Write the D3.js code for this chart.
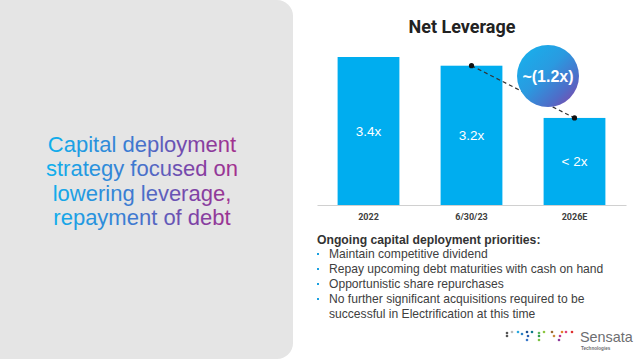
<!DOCTYPE html>
<html>
<head>
<meta charset="utf-8">
<title>Net Leverage</title>
<script src="https://cdn.jsdelivr.net/npm/d3@7"></script>
<style>
body { margin: 0; background: #fff; }
svg { display: block; font-family: "Liberation Sans", Arial, sans-serif; }
</style>
</head>
<body>
<div id="chart"></div>
<script>
// data
var categories = ['2022', '6/30/23', '2026E'];
var leverage = [3.4, 3.2, 2.0];
var barLabels = ['3.4x', '3.2x', '< 2x'];
var reduction = '~(1.2x)';
var headline = ['Capital deployment', 'strategy focused on', 'lowering leverage,', 'repayment of debt'];
var priorities = [
    ['Maintain competitive dividend'],
    ['Repay upcoming debt maturities with cash on hand'],
    ['Opportunistic share repurchases'],
    ['No further significant acquisitions required to be', 'successful in Electrification at this time']
];
// logo dots: [x offset, y offset, colour]
var logoDots = [
    [0, 2, '#555'], [0, 5, '#555'], [5, 1, '#bbb'], [11, 1, '#29a9e0'], [15, 3, '#2a7fc6'],
    [20, 1, '#1f4f8f'], [25, 1, '#117a8b'], [21, 5, '#2a5fb0'], [20, 9, '#3a78c9'],
    [32, 2, '#5cb85c'], [32, 5, '#2e9e4f'], [32, 9, '#7cc242'], [37, 1, '#8cc63f'],
    [45, 1, '#9b6a2f'], [47, 5, '#c98a3a'], [53, 5, '#c0398f'], [55, 1, '#e2832b'],
    [52, 9, '#8e3b9a'], [59, 1, '#e0407a'], [65, 1, '#e03131']
];

var width = 640, height = 359;

var svg = d3.select('#chart').append('svg')
    .attr('width', width)
    .attr('height', height);

var defs = svg.append('defs');

var textGrad = defs.append('linearGradient')
    .attr('id', 'textGrad')
    .attr('gradientUnits', 'userSpaceOnUse')
    .attr('x1', 50).attr('y1', 0).attr('x2', 238).attr('y2', 0);
textGrad.append('stop').attr('offset', '0%').attr('stop-color', '#11aeec');
textGrad.append('stop').attr('offset', '45%').attr('stop-color', '#3f78d0');
textGrad.append('stop').attr('offset', '75%').attr('stop-color', '#7a44a8');
textGrad.append('stop').attr('offset', '100%').attr('stop-color', '#a4308c');

var bubbleGrad = defs.append('linearGradient')
    .attr('id', 'bubbleGrad')
    .attr('x1', '0%').attr('y1', '0%').attr('x2', '100%').attr('y2', '100%');
bubbleGrad.append('stop').attr('offset', '0%').attr('stop-color', '#14b4ee');
bubbleGrad.append('stop').attr('offset', '45%').attr('stop-color', '#2a9ae0');
bubbleGrad.append('stop').attr('offset', '75%').attr('stop-color', '#4f6cc8');
bubbleGrad.append('stop').attr('offset', '100%').attr('stop-color', '#8e3ea2');

// left panel
svg.append('rect')
    .attr('x', -20).attr('y', 0)
    .attr('width', 313).attr('height', height)
    .attr('rx', 16)
    .attr('fill', '#e5e5e5');

svg.append('g').selectAll('text')
    .data(headline)
    .enter().append('text')
    .attr('x', 142)
    .attr('y', function(d, i) { return 152 + i * 24.3; })
    .attr('text-anchor', 'middle')
    .attr('font-size', 22)
    .attr('fill', 'url(#textGrad)')
    .text(function(d) { return d; });

// chart
var x = d3.scaleBand()
    .domain(categories)
    .range([317, 626])
    .paddingInner(0.4)
    .paddingOuter(0.2);

var y = d3.scaleLinear()
    .domain([0, 3.4])
    .range([205, 57]);

svg.append('text')
    .attr('x', 462).attr('y', 33)
    .attr('text-anchor', 'middle')
    .attr('font-family', 'Roboto, sans-serif')
    .attr('font-weight', 'bold')
    .attr('font-size', 18)
    .attr('fill', '#222')
    .text('Net Leverage');

svg.append('g').selectAll('rect')
    .data(leverage)
    .enter().append('rect')
    .attr('x', function(d, i) { return x(categories[i]); })
    .attr('y', function(d) { return y(d); })
    .attr('width', x.bandwidth())
    .attr('height', function(d) { return y(0) - y(d); })
    .attr('fill', '#00adef');

svg.append('g').selectAll('text')
    .data(leverage)
    .enter().append('text')
    .attr('x', function(d, i) { return x(categories[i]) + x.bandwidth() / 2; })
    .attr('y', function(d) { return (y(d) + y(0)) / 2 + 5; })
    .attr('text-anchor', 'middle')
    .attr('font-size', 13.5)
    .attr('fill', '#fff')
    .text(function(d, i) { return barLabels[i]; });

var axis = svg.append('g')
    .attr('transform', 'translate(0,205)')
    .call(d3.axisBottom(x).tickSize(0).tickPadding(9));
axis.select('.domain').attr('stroke', '#d0d0d0').attr('stroke-width', 1.2);
axis.selectAll('text')
    .attr('font-family', 'Roboto, sans-serif')
    .attr('font-weight', 'bold')
    .attr('font-size', 9)
    .attr('fill', '#404040');

// change annotation
var p1 = [x(categories[1]) + x.bandwidth() / 2, y(leverage[1])];
var p2 = [x(categories[2]) + x.bandwidth() / 2, y(leverage[2])];

svg.append('line')
    .attr('x1', p1[0]).attr('y1', p1[1])
    .attr('x2', p2[0]).attr('y2', p2[1])
    .attr('stroke', '#333')
    .attr('stroke-width', 1.2)
    .attr('stroke-dasharray', '4,3');

svg.append('circle')
    .attr('cx', 548).attr('cy', 76).attr('r', 31)
    .attr('fill', 'url(#bubbleGrad)');

svg.append('text')
    .attr('x', 548).attr('y', 82)
    .attr('text-anchor', 'middle')
    .attr('font-weight', 'bold')
    .attr('font-size', 16)
    .attr('fill', '#fff')
    .text(reduction);

svg.append('g').selectAll('circle')
    .data([p1, p2])
    .enter().append('circle')
    .attr('cx', function(d) { return d[0]; })
    .attr('cy', function(d) { return d[1]; })
    .attr('r', 2.6)
    .attr('fill', '#111');

// priorities
svg.append('text')
    .attr('x', 317).attr('y', 244)
    .attr('font-weight', 'bold')
    .attr('font-size', 12.2)
    .attr('fill', '#333')
    .text('Ongoing capital deployment priorities:');

var lines = [];
priorities.forEach(function(p) {
    p.forEach(function(t, j) { lines.push({ text: t, bullet: j === 0 }); });
});

var list = svg.append('g');
list.selectAll('rect')
    .data(lines.filter(function(d) { return d.bullet; }))
    .enter().append('rect')
    .attr('x', 317)
    .attr('y', function(d) { return 253 + lines.indexOf(d) * 15; })
    .attr('width', 2).attr('height', 2)
    .attr('fill', '#1aa0e0');
list.selectAll('text')
    .data(lines)
    .enter().append('text')
    .attr('x', 329)
    .attr('y', function(d, i) { return 258 + i * 15; })
    .attr('font-size', 12.1)
    .attr('fill', '#404040')
    .text(function(d) { return d.text; });

// logo
var logo = svg.append('g').attr('transform', 'translate(507,331)');
logo.selectAll('circle')
    .data(logoDots)
    .enter().append('circle')
    .attr('cx', function(d) { return d[0]; })
    .attr('cy', function(d) { return d[1]; })
    .attr('r', 1.3)
    .attr('fill', function(d) { return d[2]; });
logo.append('text')
    .attr('x', 73).attr('y', 11)
    .attr('font-size', 14.4)
    .attr('fill', '#6d6e71')
    .text('Sensata');
logo.append('text')
    .attr('x', 74).attr('y', 18.5)
    .attr('font-size', 4.6)
    .attr('font-weight', 'bold')
    .attr('fill', '#6d6e71')
    .text('Technologies');
</script>
</body>
</html>
